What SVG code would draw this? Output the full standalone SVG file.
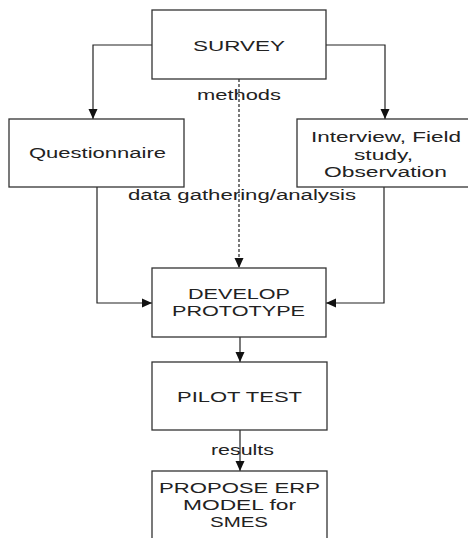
<svg xmlns="http://www.w3.org/2000/svg" width="468" height="538" viewBox="0 0 468 538">
<style>
.box{fill:#fff;stroke:#333;stroke-width:1.3}
.t{font-family:"Liberation Sans",Arial,sans-serif;font-size:15.5px;fill:#222}
.c{fill:none;stroke:#222;stroke-width:1.2}
.d{stroke-dasharray:3,2}
</style>
<defs>
<marker id="ah" markerUnits="userSpaceOnUse" markerWidth="10" markerHeight="10" viewBox="0 0 10 10" refX="10" refY="5" orient="auto">
<path d="M0,0.5 L10,5 L0,9.5 Z" fill="#111"/>
</marker>
</defs>
<rect width="468" height="538" fill="#fff"/>
<g id="connectors">
<path class="c" d="M152,45 H93 V119" marker-end="url(#ah)"/>
<path class="c" d="M326,45 H385 V119" marker-end="url(#ah)"/>
<path class="c d" d="M239,79 V268" marker-end="url(#ah)"/>
<path class="c" d="M97,187 V303 H152" marker-end="url(#ah)"/>
<path class="c" d="M384,187 V303 H326" marker-end="url(#ah)"/>
<path class="c" d="M240,337 V362" marker-end="url(#ah)"/>
<path class="c" d="M240,430 V471" marker-end="url(#ah)"/>
<text class="t" x="197" y="100" textLength="84" lengthAdjust="spacingAndGlyphs">methods</text>
<text class="t" x="128" y="200" textLength="228" lengthAdjust="spacingAndGlyphs">data gathering/analysis</text>
<text class="t" x="211" y="455" textLength="63" lengthAdjust="spacingAndGlyphs">results</text>
</g>
<g id="survey">
<rect class="box" x="152" y="10" width="174" height="69"/>
<text class="t" x="193" y="51" textLength="92" lengthAdjust="spacingAndGlyphs">SURVEY</text>
</g>
<g id="questionnaire">
<rect class="box" x="9" y="119" width="175" height="68"/>
<text class="t" x="29" y="158" textLength="137" lengthAdjust="spacingAndGlyphs">Questionnaire</text>
</g>
<g id="interview">
<rect class="box" x="297" y="119" width="175" height="68"/>
<text class="t" x="311" y="142" textLength="150" lengthAdjust="spacingAndGlyphs">Interview, Field</text>
<text class="t" x="354" y="160" textLength="59" lengthAdjust="spacingAndGlyphs">study,</text>
<text class="t" x="324" y="177" textLength="123" lengthAdjust="spacingAndGlyphs">Observation</text>
</g>
<g id="develop">
<rect class="box" x="152" y="268" width="174" height="69"/>
<text class="t" x="188" y="299" textLength="102" lengthAdjust="spacingAndGlyphs">DEVELOP</text>
<text class="t" x="172" y="316" textLength="133" lengthAdjust="spacingAndGlyphs">PROTOTYPE</text>
</g>
<g id="pilot">
<rect class="box" x="152" y="362" width="175" height="68"/>
<text class="t" x="177" y="402" textLength="125" lengthAdjust="spacingAndGlyphs">PILOT TEST</text>
</g>
<g id="propose">
<rect class="box" x="152" y="471" width="175" height="80"/>
<text class="t" x="159" y="493" textLength="161" lengthAdjust="spacingAndGlyphs">PROPOSE ERP</text>
<text class="t" x="183" y="510" textLength="113" lengthAdjust="spacingAndGlyphs">MODEL for</text>
<text class="t" x="210" y="527" textLength="58" lengthAdjust="spacingAndGlyphs">SMES</text>
</g>
</svg>
